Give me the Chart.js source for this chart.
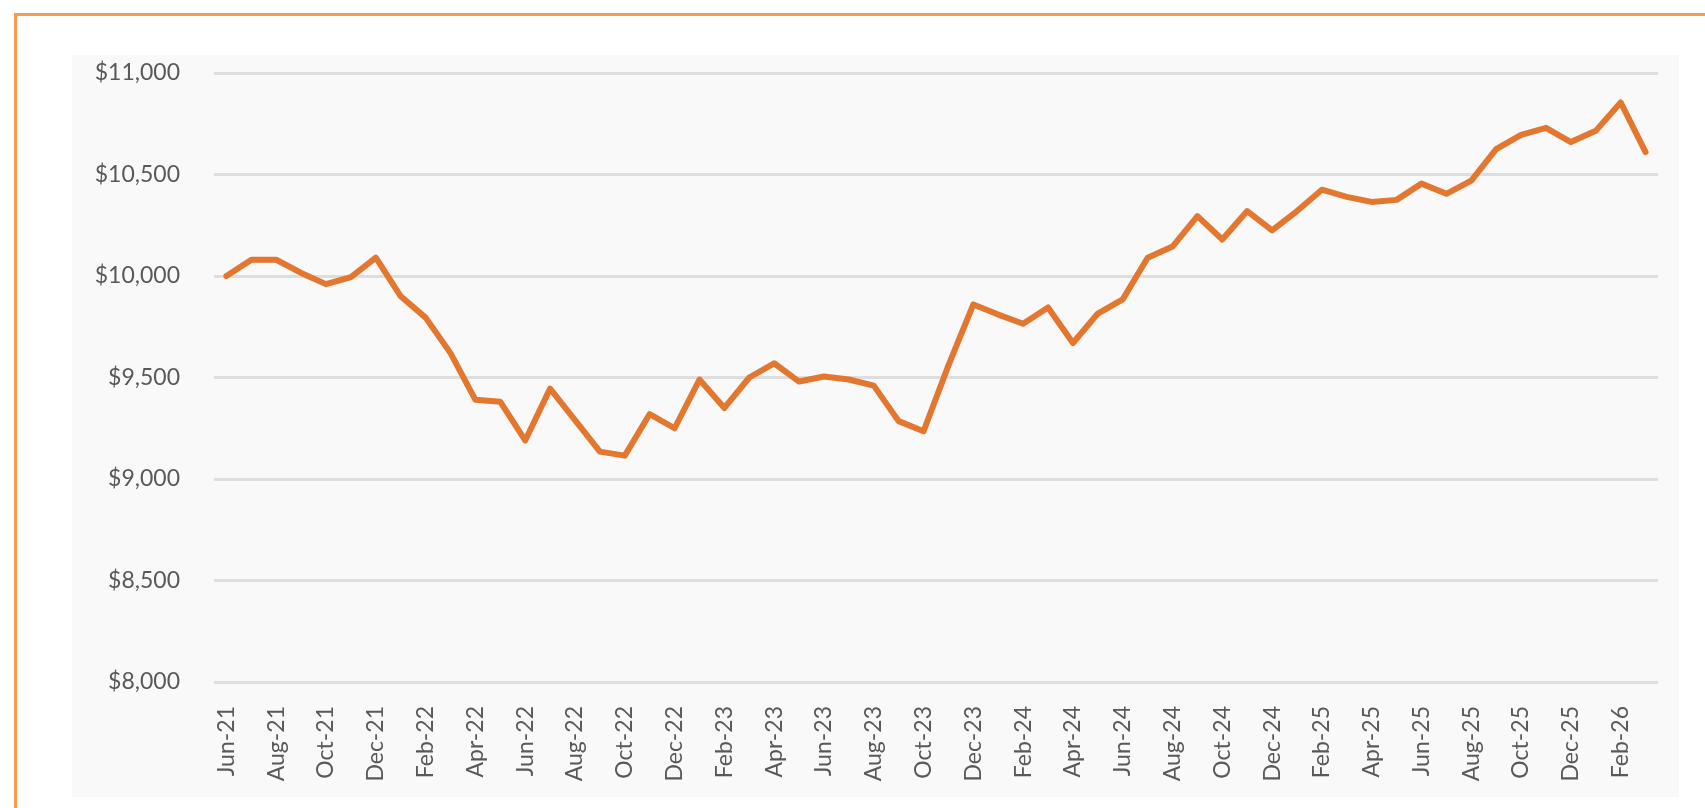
<!DOCTYPE html>
<html>
<head>
<meta charset="utf-8">
<script src="https://cdn.jsdelivr.net/npm/chart.js@4"></script>
<style>
  html, body { margin: 0; padding: 0; background: #ffffff; width: 1705px; height: 808px; overflow: hidden; }
  #frame {
    position: absolute; left: 14px; top: 13px; width: 1720px; height: 820px;
    border: 3px solid #f59d4c; box-sizing: border-box;
  }
  #plot {
    position: absolute; left: 72px; top: 55px; width: 1607px; height: 742px;
    background: #f9f9f9;
  }
</style>
</head>
<body>
<div id="frame"></div>
<div id="plot"><canvas id="lineChart" width="1607" height="742"></canvas></div>
<script>
'use strict';

// ── DATA ──────────────────────────────────────────────────────
const months = [
  'Jun-21','Jul-21','Aug-21','Sep-21','Oct-21','Nov-21','Dec-21',
  'Jan-22','Feb-22','Mar-22','Apr-22','May-22','Jun-22','Jul-22','Aug-22','Sep-22','Oct-22','Nov-22','Dec-22',
  'Jan-23','Feb-23','Mar-23','Apr-23','May-23','Jun-23','Jul-23','Aug-23','Sep-23','Oct-23','Nov-23','Dec-23',
  'Jan-24','Feb-24','Mar-24','Apr-24','May-24','Jun-24','Jul-24','Aug-24','Sep-24','Oct-24','Nov-24','Dec-24',
  'Jan-25','Feb-25','Mar-25','Apr-25','May-25','Jun-25','Jul-25','Aug-25','Sep-25','Oct-25','Nov-25','Dec-25',
  'Jan-26','Feb-26','Mar-26'
];

const balance = [
  10000, 10080, 10080, 10015, 9960, 9995, 10090,
  9900, 9795, 9620, 9390, 9380, 9190, 9445, 9290, 9135, 9115, 9320, 9250,
  9490, 9350, 9500, 9570, 9480, 9505, 9490, 9460, 9285, 9235, 9560, 9860,
  9810, 9765, 9845, 9670, 9815, 9885, 10090, 10145, 10295, 10180, 10320, 10225,
  10320, 10425, 10390, 10365, 10375, 10455, 10405, 10470, 10625, 10695, 10730, 10660,
  10715, 10855, 10610
];

const yMin  = 8000;
const yMax  = 11000;
const yStep = 500;

// ── CHART ─────────────────────────────────────────────────────
Chart.defaults.font.family = "Lato, 'Open Sans', sans-serif";
Chart.defaults.color = '#595959';

new Chart(document.getElementById('lineChart'), {
  type: 'line',
  data: {
    labels: months,
    datasets: [{
      data: balance,
      borderColor: '#e4772f',
      borderWidth: 6,
      borderJoinStyle: 'round',
      borderCapStyle: 'round',
      tension: 0,
      pointRadius: 0,
      fill: false,
    }],
  },
  options: {
    responsive: false,
    animation: false,
    devicePixelRatio: 1,
    layout: { padding: { top: 18, right: 21, left: 0, bottom: 0 } },
    plugins: { legend: { display: false }, tooltip: { enabled: false } },
    scales: {
      x: {
        offset: true,
        grid: { display: false },
        border: { display: false },
        ticks: {
          autoSkip: false,
          maxRotation: 90,
          minRotation: 90,
          padding: 16,
          font: { size: 23 },
          callback: (v, i) => (i % 2 === 0 ? months[i] : ''),
        },
        afterFit: s => { s.height = 115; s.paddingLeft = 0; s.paddingRight = 0; },
      },
      y: {
        min: yMin,
        max: yMax,
        grid: { color: '#dedede', lineWidth: 3, drawTicks: false },
        border: { display: false },
        ticks: {
          stepSize: yStep,
          padding: 34,
          font: { size: 23 },
          callback: v => '$' + v.toLocaleString('en-US'),
        },
        afterFit: s => { s.width = 142; s.paddingTop = 0; s.paddingBottom = 0; },
      },
    },
  },
});
</script>
</body>
</html>
